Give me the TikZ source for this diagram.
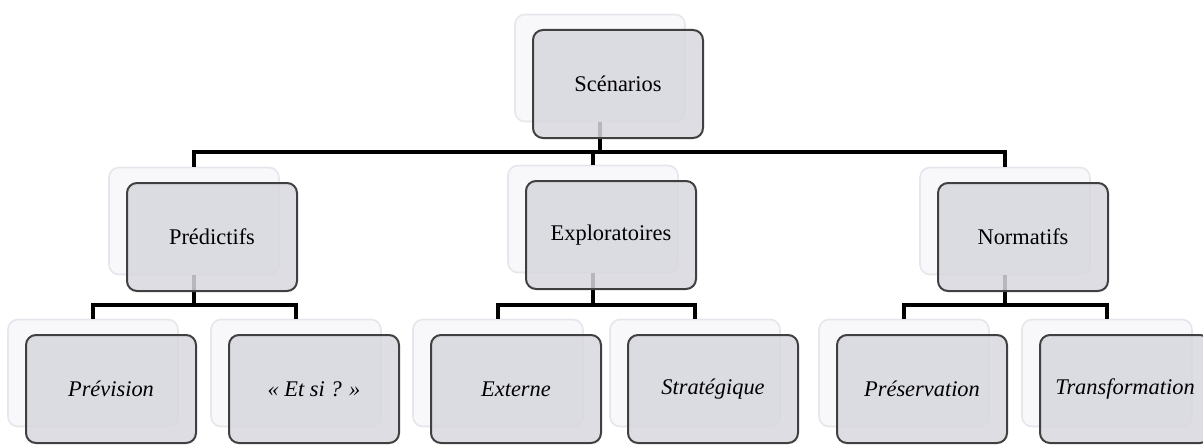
\documentclass[tikz,border=0pt]{standalone}
\usepackage{fontspec}
\setmainfont{Liberation Serif}
\usetikzlibrary{positioning}

\definecolor{boxfill}{RGB}{215,215,222}
\definecolor{boxline}{RGB}{64,64,64}
\definecolor{backfill}{RGB}{248,248,250}
\definecolor{backline}{RGB}{230,230,236}

\begin{document}
\begin{tikzpicture}[x=0.5pt, y=-0.5pt,
    backbox/.style={draw=backline, fill=backfill, line width=0.8pt, rounded corners=5pt,
      minimum width=85pt, minimum height=53.5pt},
    frontbox/.style={draw=boxline, fill=boxfill, fill opacity=0.85, text opacity=1,
      line width=1pt, rounded corners=5pt, minimum width=85pt, minimum height=54pt,
      font=\fontsize{11.2}{13.4}\selectfont},
    leafbox/.style={frontbox, font=\fontsize{11.2}{13.4}\selectfont\itshape},
    conn/.style={draw=black, line width=2pt}]

  \useasboundingbox (0,0) rectangle (1203,444);

  % Back (shadow) boxes
  \foreach \n/\x/\y in {sc/600/68, pred/194/221, expl/593/219, norm/1005/221,
      prev/93/373, etsi/296/373, ext/498/373, strat/695/373, pres/904/373, trans/1107/373}
    \node[backbox] (\n-b) at (\x,\y) {};

  % Connectors (drawn before the front boxes, so they show faintly through them)
  \draw[conn] (sc-b.south) -- ++(0,30) coordinate (sc-bus);
  \draw[conn] (pred-b.north) |- (sc-bus) -| (norm-b.north);
  \draw[conn] (sc-bus -| expl-b.north) -- (expl-b.north);

  \draw[conn] (pred-b.south) -- ++(0,30) coordinate (pred-bus);
  \draw[conn] (prev-b.north) |- (pred-bus) -| (etsi-b.north);

  \draw[conn] (expl-b.south) -- ++(0,32) coordinate (expl-bus);
  \draw[conn] (ext-b.north) |- (expl-bus) -| (strat-b.north);

  \draw[conn] (norm-b.south) -- ++(0,30) coordinate (norm-bus);
  \draw[conn] (pres-b.north) |- (norm-bus) -| (trans-b.north);

  % Front boxes
  \node[frontbox] (sc) at (618,84) {Scénarios};

  \node[frontbox] (pred) at (212,237) {Prédictifs};
  \node[frontbox] (expl) at (611,235) {Exploratoires};
  \node[frontbox] (norm) at (1023,237) {Normatifs};

  \node[leafbox] (prev) at (111,389) {Prévision};
  \node[leafbox] (etsi) at (314,389) {« Et si ? »};
  \node[leafbox] (ext) at (516,389) {Externe};
  \node[leafbox] (strat) at (713,389) {Stratégique};
  \node[leafbox] (pres) at (922,389) {Préservation};
  \node[leafbox] (trans) at (1125,389) {Transformation};

\end{tikzpicture}
\end{document}
